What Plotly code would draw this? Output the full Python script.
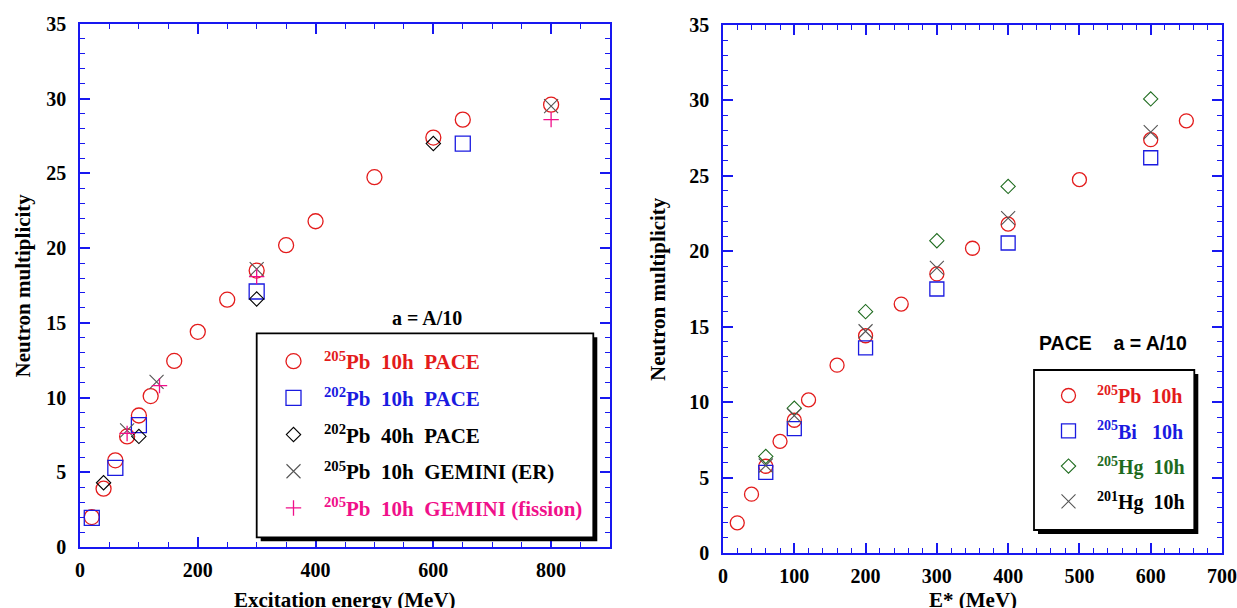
import plotly.graph_objects as go

W, H = 1237, 608
SERIF = "Liberation Serif, Times New Roman, serif"
SANS = "Liberation Sans, Arial, sans-serif"

# ---------------- Left panel data (Excitation energy, MeV -> neutron multiplicity)
pb205_pace_E = [20, 40, 60, 80, 100, 120, 160, 200, 250, 300, 350, 400, 500, 600, 650, 800]
pb205_pace_M = [2.0, 3.9, 5.8, 7.4, 8.8, 10.1, 12.45, 14.4, 16.55, 18.5, 20.2, 21.8, 24.75, 27.4, 28.6, 29.6]
pb202_pace10_E = [20, 60, 100, 300, 650]
pb202_pace10_M = [1.95, 5.3, 8.15, 17.1, 27.0]
pb202_pace40_E = [40, 100, 300, 600]
pb202_pace40_M = [4.3, 7.4, 16.6, 27.0]
pb205_gemER_E = [80, 130, 300, 800]
pb205_gemER_M = [7.8, 11.05, 18.6, 29.5]
pb205_gemFis_E = [80, 135, 300, 800]
pb205_gemFis_M = [7.6, 10.8, 18.1, 28.6]

# ---------------- Right panel data (E*, MeV -> neutron multiplicity)
r_pb205_E = [20, 40, 60, 80, 100, 120, 160, 200, 250, 300, 350, 400, 500, 600, 650]
r_pb205_M = [2.0, 3.9, 5.75, 7.4, 8.8, 10.15, 12.45, 14.4, 16.5, 18.5, 20.2, 21.8, 24.75, 27.4, 28.65]
bi205_E = [60, 100, 200, 300, 400, 600]
bi205_M = [5.35, 8.25, 13.6, 17.5, 20.55, 26.2]
hg205_E = [60, 100, 200, 300, 400, 600]
hg205_M = [6.4, 9.6, 16.0, 20.7, 24.3, 30.1]
hg201_E = [60, 100, 200, 300, 400, 600]
hg201_M = [5.8, 9.1, 14.7, 18.9, 22.2, 27.9]

RED = "#e31b1b"
BLUE = "#1a1ae0"
BLACK = "#000000"
GRAY = "#555555"
PINK = "#f0108a"
GREEN = "#1e6b1e"
AXBLUE = "#1818f0"
NB = "\u00a0"


def lbl(color, iso, rest):
    return f"<span style='color:{color}'><sup>{iso}</sup>{rest}</span>"


def px(x):
    return x / W


def py(y):
    return 1 - y / H


fig = go.Figure()

left_traces = [
    (pb205_pace_E, pb205_pace_M, "circle-open", 15, RED, 1.3,
     lbl(RED, "205", f"Pb{NB}{NB}10h{NB}{NB}PACE")),
    (pb202_pace10_E, pb202_pace10_M, "square-open", 15, BLUE, 1.3,
     lbl(BLUE, "202", f"Pb{NB}{NB}10h{NB}{NB}PACE")),
    (pb202_pace40_E, pb202_pace40_M, "diamond-open", 11, BLACK, 1.1,
     lbl(BLACK, "202", f"Pb{NB}{NB}40h{NB}{NB}PACE")),
    (pb205_gemER_E, pb205_gemER_M, "x-thin-open", 14, GRAY, 1.1,
     lbl(BLACK, "205", f"Pb{NB}{NB}10h{NB}{NB}GEMINI (ER)")),
    (pb205_gemFis_E, pb205_gemFis_M, "cross-thin-open", 11, PINK, 1.3,
     lbl(PINK, "205", f"Pb{NB}{NB}10h{NB}{NB}GEMINI (fission)")),
]
for i, (xs, ys, sym, sz, col, lw, name) in enumerate(left_traces):
    fig.add_trace(go.Scatter(
        x=xs, y=ys, mode="markers", name=name, xaxis="x", yaxis="y",
        marker=dict(symbol=sym, size=sz, color=col, line=dict(color=col, width=lw)),
        legend="legend", legendgroup=f"L{i}", showlegend=True))

right_traces = [
    (r_pb205_E, r_pb205_M, "circle-open", 14, RED, 1.3,
     lbl(RED, "205", f"Pb{NB}{NB}10h")),
    (bi205_E, bi205_M, "square-open", 14, BLUE, 1.3,
     lbl(BLUE, "205", f"Bi{NB}{NB}{NB}10h")),
    (hg205_E, hg205_M, "diamond-open", 11, GREEN, 1.1,
     lbl(GREEN, "205", f"Hg{NB}{NB}10h")),
    (hg201_E, hg201_M, "x-thin-open", 14, GRAY, 1.1,
     lbl(BLACK, "201", f"Hg{NB}{NB}10h")),
]
for i, (xs, ys, sym, sz, col, lw, name) in enumerate(right_traces):
    fig.add_trace(go.Scatter(
        x=xs, y=ys, mode="markers", name=name, xaxis="x2", yaxis="y2",
        marker=dict(symbol=sym, size=sz, color=col, line=dict(color=col, width=lw)),
        legend="legend2", legendgroup=f"R{i}", showlegend=True))

# plot-area pixel boxes
LX0, LX1, LY0, LY1 = 80, 610, 24, 547
RX0, RX1, RY0, RY1 = 723, 1222, 25, 553

tickfont = dict(family=SERIF, size=20, color="black", weight="bold")


def axis_common(dom, dtick, mdtick, rng, standoff):
    return dict(
        domain=dom, range=rng, dtick=dtick, tick0=0, automargin=False,
        showline=True, linecolor=AXBLUE, linewidth=1.5, mirror="ticks",
        ticks="inside", ticklen=10, tickwidth=1.5, tickcolor=AXBLUE,
        minor=dict(dtick=mdtick, ticks="inside", ticklen=5, tickwidth=1.2, tickcolor=AXBLUE),
        showgrid=False, zeroline=False, tickfont=tickfont, ticklabelstandoff=standoff,
    )


fig.update_layout(
    width=W, height=H,
    margin=dict(l=0, r=0, t=0, b=0, autoexpand=False),
    paper_bgcolor="white", plot_bgcolor="white",
    xaxis=axis_common([px(LX0), px(LX1)], 200, 50, [0, 900], 4) | dict(anchor="y"),
    yaxis=axis_common([py(LY1), py(LY0)], 5, 1, [0, 35], 8) | dict(anchor="x"),
    xaxis2=axis_common([px(RX0), px(RX1)], 100, 20, [0, 700], 4) | dict(anchor="y2"),
    yaxis2=axis_common([py(RY1), py(RY0)], 5, 1, [0, 35], 8) | dict(anchor="x2"),
    legend=dict(
        x=px(263), y=py(341), xanchor="left", yanchor="top",
        bgcolor="rgba(0,0,0,0)", borderwidth=0, itemwidth=51, tracegroupgap=6.4,
        font=dict(family=SERIF, size=21, color="black", weight="bold"),
    ),
    legend2=dict(
        x=px(1040), y=py(376), xanchor="left", yanchor="top",
        bgcolor="rgba(0,0,0,0)", borderwidth=0, itemwidth=47, tracegroupgap=6.3,
        font=dict(family=SERIF, size=20, color="black", weight="bold"),
    ),
    showlegend=True,
)

# legend frames with drop shadow
shapes = []
for (x0, y0, x1, y1) in [(256.7, 333.3, 593.3, 537.3), (1034, 370, 1194.3, 530)]:
    shapes.append(dict(type="rect", xref="paper", yref="paper",
                       x0=px(x0 + 4), x1=px(x1 + 4), y0=py(y1 + 4), y1=py(y0 + 4),
                       fillcolor="black", line=dict(width=0), layer="above"))
    shapes.append(dict(type="rect", xref="paper", yref="paper",
                       x0=px(x0), x1=px(x1), y0=py(y1), y1=py(y0),
                       fillcolor="white", line=dict(color="black", width=1.8), layer="above"))
fig.update_layout(shapes=shapes)

ann = [
    dict(text="<b>Excitation energy (MeV)</b>", x=px((LX0 + LX1) / 2), y=py(600),
         font=dict(family=SERIF, size=21, color="black")),
    dict(text="<b>Neutron multiplicity</b>", x=px(22), y=py((LY0 + LY1) / 2), textangle=-90,
         font=dict(family=SERIF, size=21, color="black")),
    dict(text="<b>E* (MeV)</b>", x=px((RX0 + RX1) / 2), y=py(600),
         font=dict(family=SERIF, size=21, color="black")),
    dict(text="<b>Neutron multiplicity</b>", x=px(658), y=py((RY0 + RY1) / 2), textangle=-90,
         font=dict(family=SERIF, size=21, color="black")),
    dict(text="<b>a = A/10</b>", x=px(427), y=py(318),
         font=dict(family=SERIF, size=20, color="black")),
    dict(text=f"<b>PACE{NB}{NB}{NB}{NB}a = A/10</b>", x=px(1113), y=py(343),
         font=dict(family=SANS, size=19.5, color="black")),
]
for a in ann:
    a.update(xref="paper", yref="paper", showarrow=False, xanchor="center", yanchor="middle")
fig.update_layout(annotations=ann)

fig.write_html("out.html", config={"displayModeBar": False},
               post_script="document.body.style.margin='0px';")
